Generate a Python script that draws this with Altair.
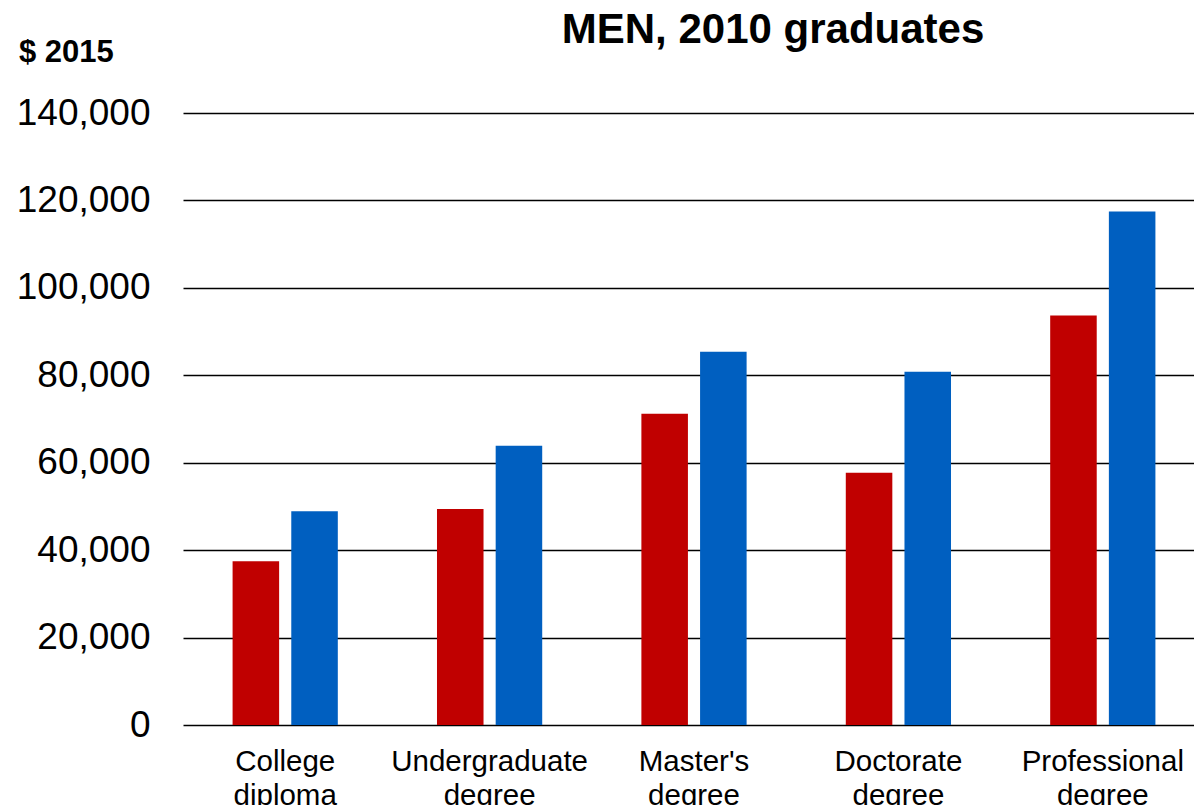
import altair as alt
import pandas as pd

categories = ["College diploma", "Undergraduate degree", "Master's degree",
              "Doctorate degree", "Professional degree"]
series_names = ["Series 1", "Series 2"]
red_values = [37440, 49410, 71200, 57710, 93670]
blue_values = [48870, 63890, 85370, 80800, 117440]
y_ticks = [0, 20000, 40000, 60000, 80000, 100000, 120000, 140000]
title_text = ["MEN, 2010 graduates"]
unit_text = ["$ 2015"]

rows = []
for c, r, b in zip(categories, red_values, blue_values):
    rows.append({"category": c, "series": series_names[0], "value": r})
    rows.append({"category": c, "series": series_names[1], "value": b})
df = pd.DataFrame(rows)

FONT = "Liberation Sans"

bars = alt.Chart(df).mark_bar().encode(
    x=alt.X("category:N", sort=categories,
            scale=alt.Scale(paddingInner=0, paddingOuter=0, range=[0, 1022]),
            axis=alt.Axis(title=None, labelAngle=0, ticks=False, domain=False,
                          labelFontSize=29.5, labelFont=FONT, labelColor="black",
                          labelPadding=22, labelLineHeight=34, labelLimit=0,
                          labelExpr="split(datum.label, ' ')")),
    xOffset=alt.XOffset("series:N", sort=series_names,
                        scale=alt.Scale(paddingInner=0.207, paddingOuter=0.845)),
    y=alt.Y("value:Q", scale=alt.Scale(domain=[0, 140000], nice=False),
            axis=alt.Axis(title=None, values=y_ticks, format=",d", ticks=False,
                          tickSize=0, domain=False, grid=True, gridColor="black",
                          gridWidth=1.6, gridOpacity=1, labelFontSize=37,
                          labelFont=FONT, labelColor="black", labelPadding=33)),
    color=alt.Color("series:N", sort=series_names,
                    scale=alt.Scale(domain=series_names, range=["#C00000", "#005FC0"]),
                    legend=None),
)

title = alt.Chart(pd.DataFrame({"t": title_text})).mark_text(
    font=FONT, fontSize=42, fontWeight="bold", color="black",
    align="center", baseline="alphabetic"
).encode(text="t:N", x=alt.value(590), y=alt.value(-70))

unit = alt.Chart(pd.DataFrame({"t": unit_text})).mark_text(
    font=FONT, fontSize=31, fontWeight="bold", color="black",
    align="left", baseline="alphabetic"
).encode(text="t:N", x=alt.value(-164), y=alt.value(-51))

chart = alt.layer(bars, title, unit).properties(
    width=1011, height=612,
    autosize=alt.AutoSizeParams(type="none"),
    padding={"left": 183, "top": 113, "right": 0, "bottom": 80},
    background="white",
).configure_view(stroke=None)

chart.save("out.html", embed_options={"renderer": "svg", "actions": False})
